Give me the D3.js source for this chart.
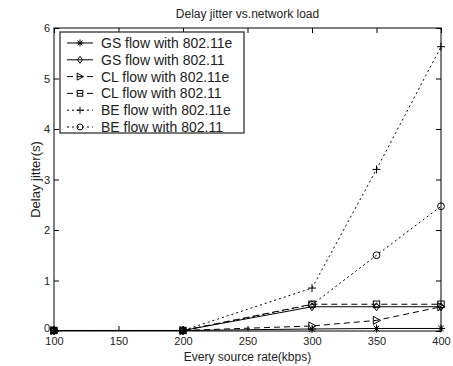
<!DOCTYPE html>
<html>
<head>
<meta charset="utf-8">
<script src="https://cdn.jsdelivr.net/npm/d3@7"></script>
<style>
  body { margin: 0; background: #fff; }
  text { font-family: "Liberation Sans", Arial, sans-serif; fill: #222; }
</style>
</head>
<body>
<div id="chart"></div>
<script>
// data
const rates = [100, 200, 300, 350, 400];
const gsE = [0.01, 0.01, 0.04, 0.05, 0.05];
const gs = [0.01, 0.01, 0.48, 0.48, 0.48];
const clE = [0.01, 0.01, 0.1, 0.21, 0.48];
const cl = [0.01, 0.01, 0.53, 0.53, 0.53];
const beE = [0.01, 0.01, 0.85, 3.2, 5.63];
const be = [0.01, 0.01, 0.52, 1.5, 2.47];
const xTicks = [100, 150, 200, 250, 300, 350, 400];
const yTicks = [0, 1, 2, 3, 4, 5, 6];

const series = [
    { name: 'GS flow with 802.11e', values: gsE, dash: null, marker: 'star' },
    { name: 'GS flow with 802.11', values: gs, dash: null, marker: 'diamond' },
    { name: 'CL flow with 802.11e', values: clE, dash: '6,4', marker: 'triangle' },
    { name: 'CL flow with 802.11', values: cl, dash: '6,4', marker: 'square' },
    { name: 'BE flow with 802.11e', values: beE, dash: '2,3', marker: 'plus' },
    { name: 'BE flow with 802.11', values: be, dash: '2,3', marker: 'circle' }
];

const W = 453, H = 366;
const m = { left: 54, right: 12, top: 28, bottom: 35 };
const iw = W - m.left - m.right, ih = H - m.top - m.bottom;

const svg = d3.select('#chart').append('svg').attr('width', W).attr('height', H);
const g = svg.append('g').attr('transform', `translate(${m.left},${m.top})`);

const x = d3.scaleLinear().domain([100, 400]).range([0, iw]);
const y = d3.scaleLinear().domain([0, 6]).range([ih, 0]);

// frame
g.append('rect').attr('width', iw).attr('height', ih)
    .attr('fill', 'none').attr('stroke', '#000').attr('stroke-width', 1);

// axes with inward ticks
const styleAxis = (sel) => {
    sel.select('.domain').remove();
    sel.selectAll('line').attr('stroke', '#000');
    sel.selectAll('text').style('font-size', '11px').attr('fill', '#222');
};
g.append('g').attr('transform', `translate(0,${ih})`)
    .call(d3.axisBottom(x).tickValues(xTicks).tickSizeInner(-5).tickSizeOuter(0).tickPadding(6))
    .call(styleAxis);
g.append('g')
    .call(d3.axisTop(x).tickValues(xTicks).tickSizeInner(-5).tickSizeOuter(0).tickFormat(''))
    .call(styleAxis);
const yAxis = g.append('g')
    .call(d3.axisLeft(y).tickValues(yTicks).tickSizeInner(-5).tickSizeOuter(0).tickPadding(4).tickFormat(d3.format('d')))
    .call(styleAxis);
// the "0" sits just above the "100" label
yAxis.selectAll('.tick text').filter(d => d === 0).attr('dy', '0.05em');
g.append('g').attr('transform', `translate(${iw},0)`)
    .call(d3.axisRight(y).tickValues(yTicks).tickSizeInner(-5).tickSizeOuter(0).tickFormat(''))
    .call(styleAxis);

// marker drawing
function drawMarker (sel, type, s) {
    const r = s;
    if (type === 'star') {
        sel.append('path').attr('d', `M${-r},0H${r}M0,${-r}V${r}M${-r*0.7},${-r*0.7}L${r*0.7},${r*0.7}M${-r*0.7},${r*0.7}L${r*0.7},${-r*0.7}`)
            .attr('stroke', '#000').attr('fill', 'none');
    } else if (type === 'plus') {
        sel.append('path').attr('d', `M${-r},0H${r}M0,${-r}V${r}`)
            .attr('stroke', '#000').attr('fill', 'none');
    } else if (type === 'diamond') {
        sel.append('path').attr('d', `M0,${-r}L${r*0.7},0L0,${r}L${-r*0.7},0Z`)
            .attr('stroke', '#000').attr('fill', 'none');
    } else if (type === 'triangle') {
        sel.append('path').attr('d', `M${-r*0.8},${-r}L${r},0L${-r*0.8},${r}Z`)
            .attr('stroke', '#000').attr('fill', 'none');
    } else if (type === 'square') {
        sel.append('rect').attr('x', -r*0.8).attr('y', -r*0.8).attr('width', r*1.6).attr('height', r*1.6)
            .attr('stroke', '#000').attr('fill', 'none');
    } else if (type === 'circle') {
        sel.append('circle').attr('r', r*0.85).attr('stroke', '#000').attr('fill', 'none');
    }
}

const line = d3.line().x((d, i) => x(rates[i])).y(d => y(d));

series.forEach(s => {
    g.append('path').datum(s.values)
        .attr('d', line)
        .attr('fill', 'none')
        .attr('stroke', '#000')
        .attr('stroke-width', 1)
        .attr('stroke-dasharray', s.dash);
    s.values.forEach((v, i) => {
        const mk = g.append('g').attr('transform', `translate(${x(rates[i])},${y(v)})`);
        drawMarker(mk, s.marker, 4);
    });
});

// legend
const lg = svg.append('g').attr('transform', 'translate(60,32)');
lg.append('rect').attr('width', 184).attr('height', 101)
    .attr('fill', '#fff').attr('stroke', '#333').attr('stroke-width', 1.3);
series.forEach((s, i) => {
    const row = lg.append('g').attr('transform', `translate(0,${11 + i * 16.8})`);
    row.append('line').attr('x1', 7).attr('x2', 33)
        .attr('stroke', '#000').attr('stroke-dasharray', s.dash);
    const mk = row.append('g').attr('transform', 'translate(20,0)');
    drawMarker(mk, s.marker, 3.5);
    row.append('text').attr('x', 41).attr('y', 0).attr('dy', '0.35em')
        .style('font-size', '14px').text(s.name);
});

// titles
svg.append('text').attr('x', m.left + iw / 2).attr('y', 18)
    .attr('text-anchor', 'middle').style('font-size', '12px')
    .text('Delay jitter vs.network load');
svg.append('text').attr('x', m.left + iw / 2).attr('y', 361)
    .attr('text-anchor', 'middle').style('font-size', '12px')
    .text('Every source rate(kbps)');
svg.append('text').attr('transform', `translate(40,${m.top + ih / 2}) rotate(-90)`)
    .attr('text-anchor', 'middle').style('font-size', '13px')
    .text('Delay jitter(s)');
</script>
</body>
</html>
